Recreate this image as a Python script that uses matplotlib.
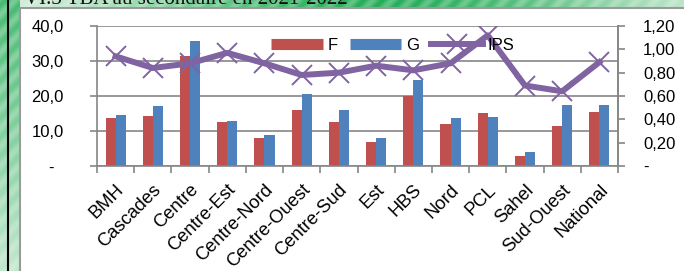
import numpy as np
import matplotlib
matplotlib.use('Agg')
import matplotlib.pyplot as plt
import matplotlib.transforms as mtransforms
from matplotlib.lines import Line2D
from matplotlib.patches import Rectangle

regions = ['BMH', 'Cascades', 'Centre', 'Centre-Est', 'Centre-Nord',
           'Centre-Ouest', 'Centre-Sud', 'Est', 'HBS', 'Nord', 'PCL',
           'Sahel', 'Sud-Ouest', 'National']
tba_f = [13.7, 14.4, 31.5, 12.7, 7.9, 16.1, 12.7, 6.8, 20.1, 11.9, 15.1,
         2.8, 11.3, 15.3]
tba_g = [14.6, 17.1, 35.7, 12.9, 8.9, 20.6, 15.9, 8.0, 24.6, 13.7, 14.0,
         4.0, 17.5, 17.3]
ips = [0.94, 0.84, 0.88, 0.97, 0.88, 0.78, 0.80, 0.86, 0.82, 0.88, 1.12,
       0.69, 0.64, 0.89]
left_ticks = [0, 10, 20, 30, 40]
left_labels = ['-  ', '10,0', '20,0', '30,0', '40,0']
right_ticks = [0, 0.2, 0.4, 0.6, 0.8, 1.0, 1.2]
right_labels = ['-', '0,20', '0,40', '0,60', '0,80', '1,00', '1,20']

RED = '#C0504D'
BLUE = '#4F81BD'
PURPLE = '#8064A2'
GRAY = '#868686'

plt.rcParams['font.family'] = ['Liberation Sans', 'DejaVu Sans']
plt.rcParams['font.size'] = 12

W, H = 684, 271
fig = plt.figure(figsize=(W / 100, H / 100), dpi=100)

# green striped frame behind the chart (decoration only)
bg = fig.add_axes([0, 0, 1, 1])
yy, xx = np.mgrid[0:H, 0:W]
top = np.exp(-((xx - 380) / 260.0) ** 2) * 0.9
side = 0.75 - 0.55 * yy / H
w = np.where(xx < 20, side, top)
w = w * (0.85 + 0.15 * np.sin((xx + yy) / 3.0))
light = np.array([0.94, 0.97, 0.94])
green = np.array([0.05, 0.65, 0.28])
img = light[None, None, :] * (1 - w[..., None]) + green[None, None, :] * w[..., None]
bg.imshow(img, extent=[0, W, H, 0], aspect='auto')
bg.add_patch(Rectangle((20, 8), W, H, facecolor='white', edgecolor='#9a9a9a', lw=1.5))
bg.plot([7.5, 7.5], [0, H], color='black', lw=1.5)
bg.text(24, 4, 'VI.3 TBA au secondaire en 2021-2022', family='Liberation Serif',
        fontsize=15, ha='left', va='baseline', color='#111111')
bg.set_xlim(0, W)
bg.set_ylim(H, 0)
bg.axis('off')

ax = fig.add_axes([97 / W, 1 - 166 / H, 521 / W, 140 / H])
ax.set_facecolor('none')
x = np.arange(len(regions))
bw = 0.27
ax.bar(x - bw / 2, tba_f, bw, color=RED, zorder=2)
ax.bar(x + bw / 2, tba_g, bw, color=BLUE, zorder=2)
ax.set_xlim(-0.5, len(regions) - 0.5)
ax.set_ylim(0, 40)
ax.set_yticks(left_ticks)
ax.set_yticklabels(left_labels)
ax.yaxis.grid(True, color=GRAY, lw=1.2, zorder=0)
ax.set_axisbelow(True)
ax.tick_params(axis='y', length=5, width=1.2, color=GRAY, pad=19)
ax.set_xticks(x)
ax.set_xticklabels(regions, rotation=45, ha='right', va='top',
                   rotation_mode='anchor', fontsize=13.2)
# nudge rotated labels a bit to the right, like the original
shift = mtransforms.ScaledTranslation(4 / 100, 0, fig.dpi_scale_trans)
for lab in ax.get_xticklabels():
    lab.set_transform(lab.get_transform() + shift)
ax.set_xticks(np.arange(-0.5, len(regions)), minor=True)
ax.tick_params(axis='x', which='major', length=0, pad=11)
ax.tick_params(axis='x', which='minor', length=5, width=1.2, color=GRAY)
for s in ['left', 'bottom', 'right']:
    ax.spines[s].set_color(GRAY)
    ax.spines[s].set_linewidth(1.2)
ax.spines['top'].set_visible(False)

ax2 = ax.twinx()
ax2.plot(x, ips, color=PURPLE, lw=4.3, marker='x', ms=14, mew=1.4,
         solid_joinstyle='round')
ax2.set_ylim(0, 1.2)
ax2.set_yticks(right_ticks)
ax2.set_yticklabels(right_labels)
ax2.tick_params(axis='y', length=5, width=1.2, color=GRAY, pad=13)
for s in ['left', 'bottom', 'top']:
    ax2.spines[s].set_visible(False)
ax2.spines['right'].set_color(GRAY)
ax2.spines['right'].set_linewidth(1.2)

handles = [Line2D([], [], color=RED, lw=8, solid_capstyle='butt'),
           Line2D([], [], color=BLUE, lw=8, solid_capstyle='butt'),
           Line2D([], [], color=PURPLE, lw=4.3, marker='x', ms=14, mew=1.4)]
ax2.legend(handles, ['F', 'G', 'IPS'], ncol=3, frameon=False,
           loc='center', bbox_to_anchor=(0.568, 0.864), handlelength=3.1,
           handletextpad=0.3, columnspacing=0.7, borderpad=0, fontsize=12)

fig.savefig('out.png', dpi=100)
